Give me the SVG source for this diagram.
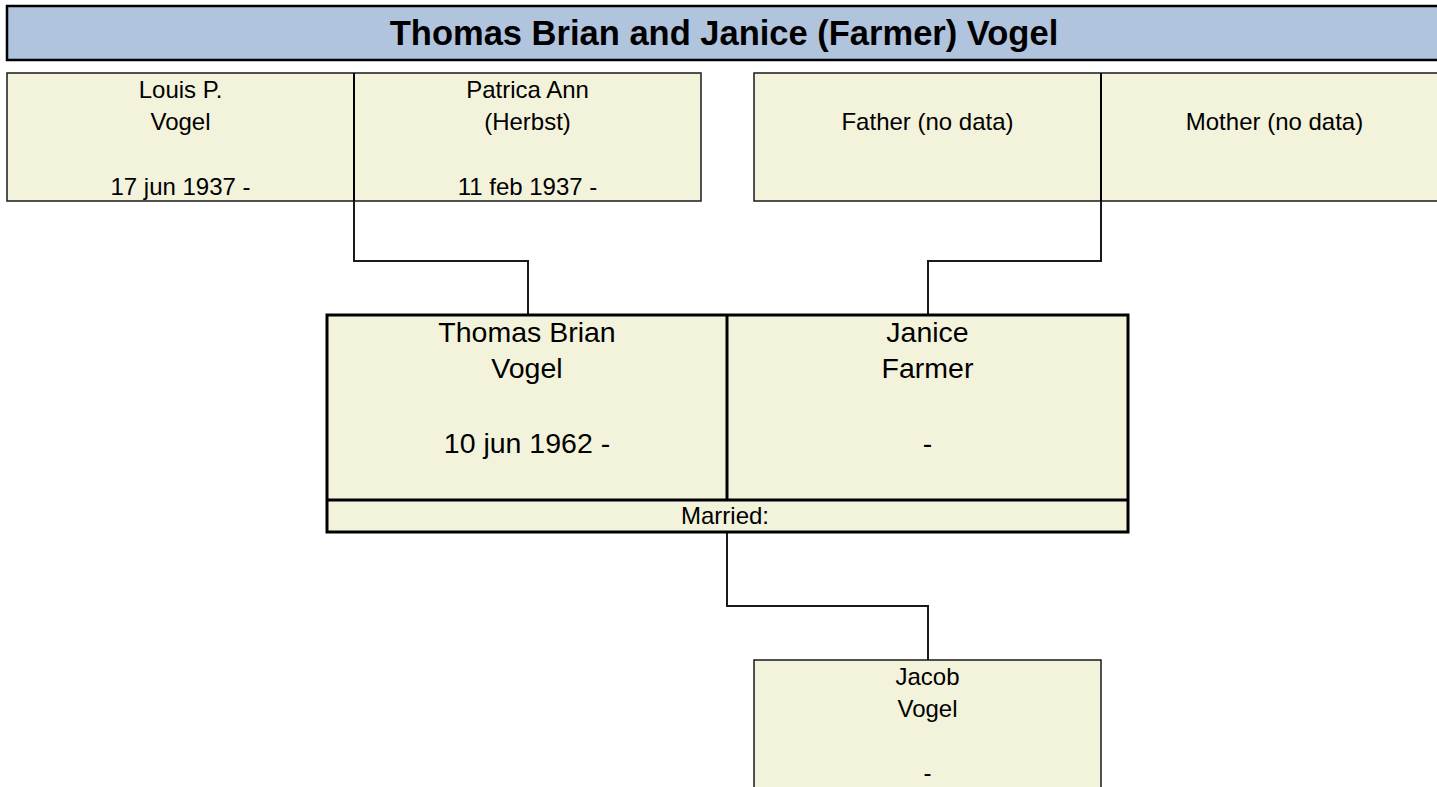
<svg xmlns="http://www.w3.org/2000/svg" width="1437" height="787" viewBox="0 0 1437 787">
  <style>
    .cell { fill: #F3F3DC; stroke: #1a1a1a; stroke-width: 1.5; }
    .thick { fill: #F3F3DC; stroke: #000; stroke-width: 3; }
    .div { stroke: #000; stroke-width: 2; fill: none; }
    .divthick { stroke: #000; stroke-width: 3; fill: none; }
    .conn { stroke: #1a1a1a; stroke-width: 2; fill: none; }
    text { font-family: "Liberation Sans", Arial, sans-serif; fill: #000; text-anchor: middle; }
    .s { font-size: 24px; }
    .m { font-size: 28.5px; }
    .title { font-size: 34.5px; font-weight: bold; }
  </style>
  <rect width="1437" height="787" fill="#fff"/>

  <g id="title">
    <rect x="7" y="6" width="1445" height="54" fill="#B0C4DE" stroke="#000" stroke-width="2.5"/>
    <text class="title" x="724" y="45">Thomas Brian and Janice (Farmer) Vogel</text>
  </g>

  <g id="connectors">
    <polyline class="conn" points="354,201 354,261 528,261 528,315"/>
    <polyline class="conn" points="1101,201 1101,261 928,261 928,315"/>
    <polyline class="conn" points="727,532 727,606 928,606 928,660"/>
  </g>

  <g id="paternal-grandparents">
    <rect class="cell" x="7" y="73" width="694" height="128"/>
    <line class="div" x1="354" y1="73" x2="354" y2="201"/>
    <g id="louis">
      <text class="s" x="180.5" y="98">Louis P.</text>
      <text class="s" x="180.5" y="130">Vogel</text>
      <text class="s" x="180.5" y="195">17 jun 1937 -</text>
    </g>
    <g id="patrica">
      <text class="s" x="527.5" y="98">Patrica Ann</text>
      <text class="s" x="527.5" y="130">(Herbst)</text>
      <text class="s" x="527.5" y="195">11 feb 1937 -</text>
    </g>
  </g>

  <g id="maternal-grandparents">
    <rect class="cell" x="754" y="73" width="700" height="128"/>
    <line class="div" x1="1101" y1="73" x2="1101" y2="201"/>
    <g id="father">
      <text class="s" x="927.5" y="130">Father (no data)</text>
    </g>
    <g id="mother">
      <text class="s" x="1274.5" y="130">Mother (no data)</text>
    </g>
  </g>

  <g id="couple">
    <rect class="thick" x="327" y="315" width="801" height="217"/>
    <line class="divthick" x1="727" y1="315" x2="727" y2="500"/>
    <line class="divthick" x1="327" y1="500" x2="1128" y2="500"/>
    <g id="thomas">
      <text class="m" x="527" y="342">Thomas Brian</text>
      <text class="m" x="527" y="378">Vogel</text>
      <text class="m" x="527" y="453">10 jun 1962 -</text>
    </g>
    <g id="janice">
      <text class="m" x="927.5" y="342">Janice</text>
      <text class="m" x="927.5" y="378">Farmer</text>
      <text class="m" x="927.5" y="453">-</text>
    </g>
    <g id="married">
      <text class="s" x="725" y="524">Married:</text>
    </g>
  </g>

  <g id="jacob">
    <rect class="cell" x="754" y="660" width="347" height="140"/>
    <text class="s" x="927.5" y="685">Jacob</text>
    <text class="s" x="927.5" y="717">Vogel</text>
    <text class="s" x="927.5" y="781">-</text>
  </g>
</svg>
